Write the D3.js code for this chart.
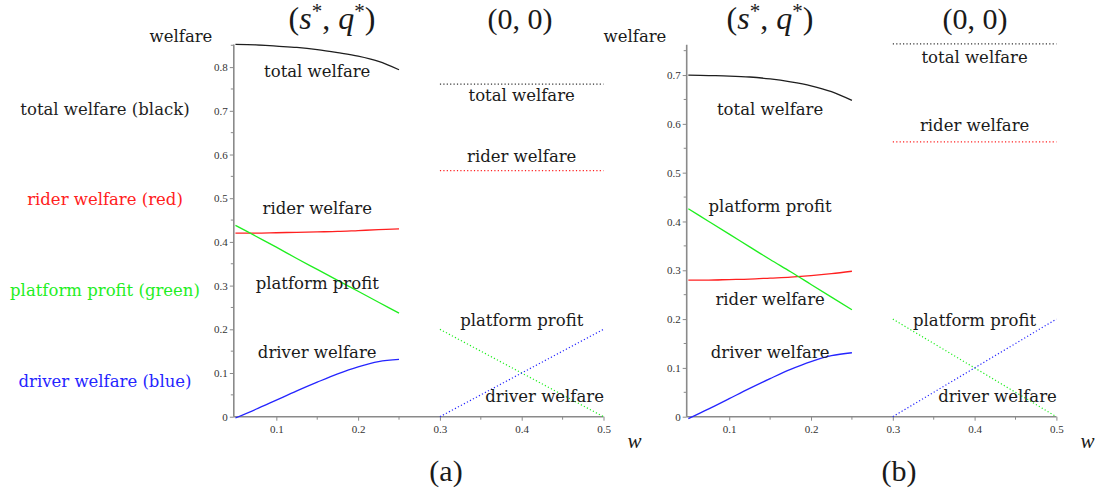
<!DOCTYPE html>
<html><head><meta charset="utf-8">
<script src="https://cdn.jsdelivr.net/npm/d3@7/dist/d3.min.js"></script>
<style>
body{margin:0;background:#fff;}
svg{display:block;}
</style></head>
<body>
<svg id="chart" width="1099" height="495"></svg>
<script>
// ---- data ----
const wSolid = [0.05, 0.075, 0.1, 0.125, 0.15, 0.175, 0.2, 0.225, 0.25];
const wDotted = [0.3, 0.5];

const totalA    = [0.852, 0.851, 0.848, 0.845, 0.840, 0.833, 0.825, 0.813, 0.794];
const riderA    = [0.420, 0.420, 0.421, 0.422, 0.423, 0.424, 0.426, 0.428, 0.430];
const platformA = [0.438, 0.413, 0.388, 0.362, 0.337, 0.312, 0.287, 0.262, 0.237];
const driverA   = [-0.003, 0.017, 0.038, 0.059, 0.079, 0.098, 0.114, 0.126, 0.131];
const totalA0    = [0.761, 0.761];
const riderA0    = [0.563, 0.563];
const platformA0 = [0.2, 0.0];
const driverA0   = [0.0, 0.2];

const totalB    = [0.700, 0.699, 0.698, 0.696, 0.692, 0.686, 0.678, 0.666, 0.648];
const riderB    = [0.280, 0.280, 0.281, 0.282, 0.284, 0.286, 0.289, 0.293, 0.298];
const platformB = [0.426, 0.400, 0.374, 0.348, 0.322, 0.297, 0.271, 0.245, 0.219];
const driverB   = [-0.004, 0.016, 0.037, 0.058, 0.078, 0.097, 0.113, 0.125, 0.131];
const totalB0    = [0.764, 0.764];
const riderB0    = [0.563, 0.563];
const platformB0 = [0.2, 0.0];
const driverB0   = [0.0, 0.2];

const xTicks = [0.1, 0.2, 0.3, 0.4, 0.5];
const xMinor = [0.15, 0.25, 0.35, 0.45];
const yTicksA = [0, 0.1, 0.2, 0.3, 0.4, 0.5, 0.6, 0.7, 0.8];
const yTicksB = [0, 0.1, 0.2, 0.3, 0.4, 0.5, 0.6, 0.7];

const legendLabels = ["total welfare (black)", "rider welfare (red)", "platform profit (green)", "driver welfare (blue)"];

// annotation labels [text, w, value]
const labelsA = [
  ["total welfare", 0.15, 0.789], ["rider welfare", 0.15, 0.477],
  ["platform profit", 0.15, 0.305], ["driver welfare", 0.15, 0.147],
  ["total welfare", 0.4, 0.7355], ["rider welfare", 0.4, 0.5966],
  ["platform profit", 0.4, 0.221], ["driver welfare", 0.428, 0.046]
];
const labelsB = [
  ["total welfare", 0.15, 0.6285], ["platform profit", 0.15, 0.430],
  ["rider welfare", 0.15, 0.2406], ["driver welfare", 0.15, 0.132],
  ["total welfare", 0.4, 0.7365], ["rider welfare", 0.4, 0.596],
  ["platform profit", 0.4, 0.198], ["driver welfare", 0.428, 0.041]
];

// ---- styling ----
const COL = {black:"#1e1e1e", red:"#ff2020", green:"#1fee1f", blue:"#2525ff"};
const LBL = "DejaVu Serif";
const MATH = "Liberation Serif";
const LSIZE = "16.5px";

const svg = d3.select("#chart");

// legend on the left
const legendColors = [COL.black, COL.red, COL.green, COL.blue];
const legendY = [109, 199, 290, 381];
svg.selectAll("text.legend").data(legendLabels).join("text")
  .attr("class","legend")
  .attr("x", 105).attr("y", (d,i)=>legendY[i])
  .attr("dominant-baseline","central").attr("text-anchor","middle")
  .attr("font-family", LBL).attr("font-size", LSIZE)
  .attr("fill",(d,i)=>legendColors[i]).text(d=>d);

function panel(cfg){
  const x = d3.scaleLinear().domain([0.048, 0.5]).range([cfg.x0, cfg.x1]);
  const y = d3.scaleLinear().domain([0, cfg.yMax]).range([416.7, cfg.yTop]);
  const g = svg.append("g");

  // y axis
  const yAx = g.append("g").attr("transform",`translate(${cfg.x0},0)`)
    .call(d3.axisLeft(y).tickValues(cfg.yTicks).tickSize(4).tickPadding(2)
      .tickFormat(d=> d===0 ? "0" : d3.format(".1f")(d)));
  const yMinor = d3.range(0.05, cfg.yMax, 0.1).filter(v=>!cfg.yTicks.some(t=>Math.abs(t-v)<1e-6));
  yAx.selectAll("line.minor").data(yMinor).join("line").attr("class","minor")
    .attr("x1",-3).attr("x2",0).attr("y1",d=>y(d)).attr("y2",d=>y(d));

  // x axis
  const xAx = g.append("g").attr("transform",`translate(0,416.7)`)
    .call(d3.axisBottom(x).tickValues(xTicks).tickSize(4).tickPadding(5)
      .tickFormat(d3.format(".1f")));
  xAx.selectAll("line.minor").data(xMinor).join("line").attr("class","minor")
    .attr("y1",0).attr("y2",3).attr("x1",d=>x(d)).attr("x2",d=>x(d));

  [yAx, xAx].forEach(a=>{
    a.attr("font-family", MATH).attr("font-size", 11);
    a.select(".domain").attr("stroke","#8a8a8a").attr("stroke-width",1.6);
    a.selectAll("line").attr("stroke","#8a8a8a").attr("stroke-width",1);
    a.selectAll("text").attr("fill","#333");
  });
  yAx.select(".domain").attr("d", `M0,${y(0)}V${cfg.yTop}`);
  xAx.select(".domain").attr("d", `M${cfg.x0},0H${cfg.x1}`);

  const line = d3.line().x(d=>x(d[0])).y(d=>y(d[1])).curve(d3.curveMonotoneX);
  const solids = [[cfg.total,COL.black],[cfg.rider,COL.red],[cfg.platform,COL.green],[cfg.driver,COL.blue]];
  solids.forEach(([vals,c])=>{
    g.append("path").datum(wSolid.map((w,i)=>[w,vals[i]]))
      .attr("d",line).attr("fill","none").attr("stroke",c).attr("stroke-width",1.3);
  });
  const dotted = [[cfg.total0,"#333"],[cfg.rider0,COL.red],[cfg.platform0,COL.green],[cfg.driver0,COL.blue]];
  dotted.forEach(([vals,c])=>{
    g.append("path").datum(wDotted.map((w,i)=>[w,vals[i]]))
      .attr("d",d3.line().x(d=>x(d[0])).y(d=>y(d[1]))).attr("fill","none")
      .attr("stroke",c).attr("stroke-width",1.2).attr("stroke-dasharray","1.2,2.2");
  });

  g.selectAll("text.ann").data(cfg.labels).join("text").attr("class","ann")
    .attr("x",d=>x(d[1])).attr("y",d=>y(d[2]))
    .attr("text-anchor","middle").attr("dominant-baseline","central")
    .attr("font-family", LBL).attr("font-size", LSIZE).attr("fill","#1a1a1a")
    .text(d=>d[0]);

  // "welfare" y label
  g.append("text").attr("x",cfg.welfareX).attr("y",36).attr("text-anchor","middle")
    .attr("dominant-baseline","central").attr("font-family", LBL).attr("font-size", LSIZE)
    .attr("fill","#1a1a1a").text("welfare");

  // w label
  g.append("text").attr("x",cfg.x1+31).attr("y",441).attr("text-anchor","middle")
    .attr("dominant-baseline","central").attr("font-family", MATH).attr("font-size", 21)
    .attr("font-style","italic").attr("fill","#1a1a1a").text("w");

  // titles
  const t1 = g.append("text").attr("x",cfg.t1x).attr("y",29).attr("text-anchor","middle")
    .attr("font-family", MATH).attr("font-size", 32).attr("fill","#1a1a1a");
  t1.append("tspan").text("(");
  t1.append("tspan").attr("font-style","italic").text("s");
  t1.append("tspan").attr("dy",-11).attr("font-size",21).text("*");
  t1.append("tspan").attr("dy",11).text(", ");
  t1.append("tspan").attr("font-style","italic").text("q");
  t1.append("tspan").attr("dy",-11).attr("font-size",21).text("*");
  t1.append("tspan").attr("dy",11).text(")");
  g.append("text").attr("x",cfg.t2x).attr("y",29).attr("text-anchor","middle")
    .attr("font-family", MATH).attr("font-size", 30).attr("fill","#1a1a1a")
    .text("(0, 0)");

  // panel tag
  g.append("text").attr("x",cfg.tagX).attr("y",470).attr("text-anchor","middle")
    .attr("dominant-baseline","central").attr("font-family", MATH)
    .attr("font-size", 30).attr("fill","#1a1a1a").text(cfg.tag);
}

panel({x0:233.8, x1:603.5, yMax:0.852, yTop:44.4, yTicks:yTicksA,
  total:totalA, rider:riderA, platform:platformA, driver:driverA,
  total0:totalA0, rider0:riderA0, platform0:platformA0, driver0:driverA0,
  labels:labelsA, welfareX:181, t1x:332, t2x:520, tagX:446, tag:"(a)"});

panel({x0:686.7, x1:1056.4, yMax:0.762, yTop:44.8, yTicks:yTicksB,
  total:totalB, rider:riderB, platform:platformB, driver:driverB,
  total0:totalB0, rider0:riderB0, platform0:platformB0, driver0:driverB0,
  labels:labelsB, welfareX:635, t1x:770, t2x:975, tagX:899, tag:"(b)"});
</script>
</body></html>
